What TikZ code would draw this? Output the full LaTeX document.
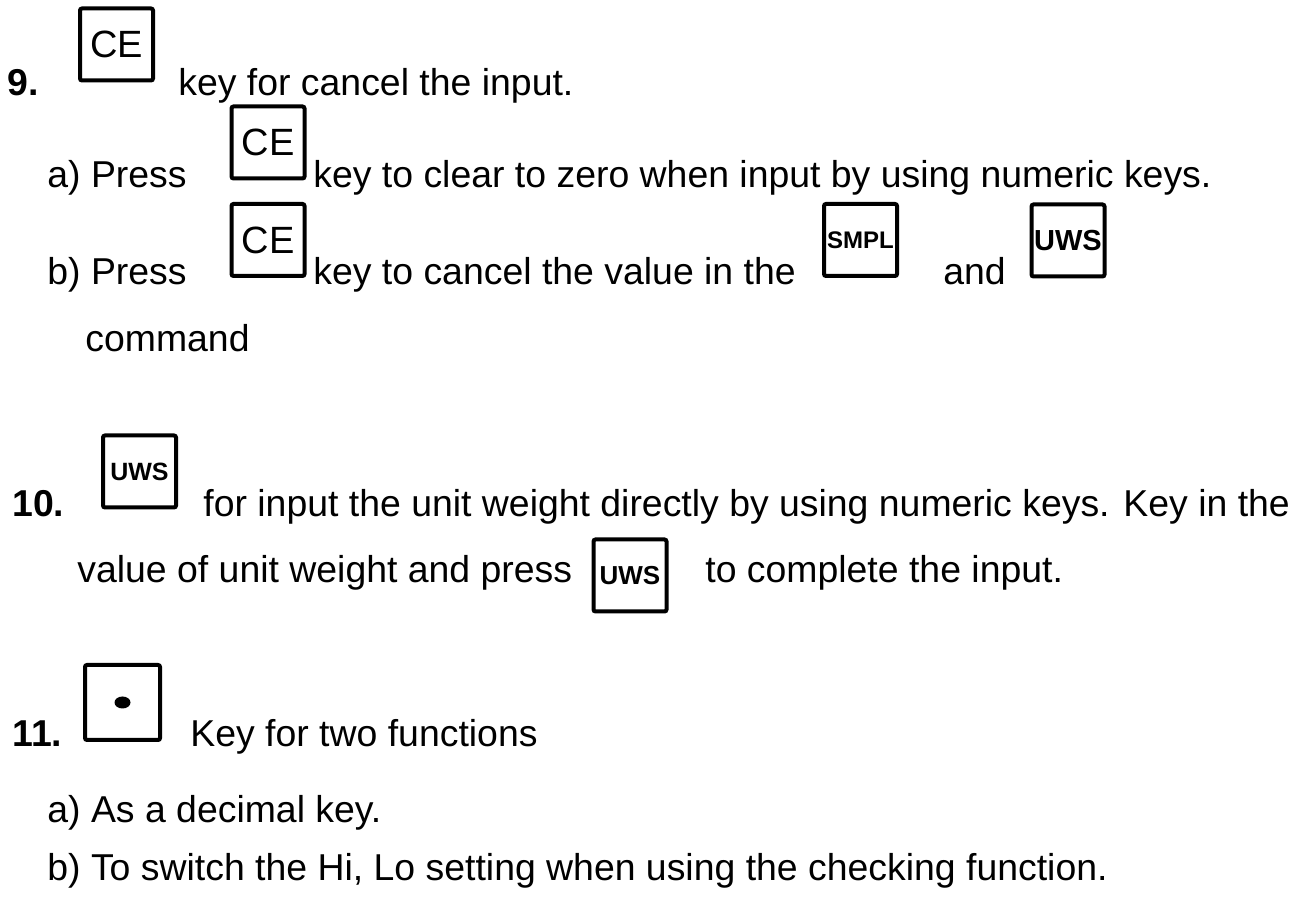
\documentclass[tikz,border=0pt]{standalone}
\usepackage{fontspec}
\setmainfont{Liberation Sans}

\begin{document}
\begin{tikzpicture}[x=0.5pt, y=-0.5pt,
    txt/.style = {anchor=base west, inner sep=0pt,
                  font=\fontsize{18.7}{22}\selectfont},
    num/.style = {txt, font=\fontsize{18.7}{22}\selectfont\bfseries},
    key/.style = {draw, line width=2pt, rounded corners=1pt, inner sep=0pt,
                  minimum width=36.5pt, minimum height=36pt,
                  font=\fontsize{19}{22}\selectfont},
    small/.style = {font=\fontsize{#1}{#1}\selectfont\bfseries}]
\useasboundingbox (0,0) rectangle (1302,908);

% item 9
\node[num] (n9) at (7,96) {9.};
\node[key] (ce9) at (116.5,44.5) {CE};
\node[txt] (t9) at (178,96) {key for cancel the input.};
\node[txt] (t9a) at (47,188) {a) Press};
\node[key] (cea) at (268,142.5) {CE};
\node[txt] (t9a2) at (313,188) {key to clear to zero when input by using numeric keys.};
\node[txt] (t9b) at (47,285) {b) Press};
\node[key] (ceb) at (268,240) {CE};
\node[txt] (t9b2) at (313,285) {key to cancel the value in the};
\node[key, small=12] (smpl) at (860.5,240) {SMPL};
\node[txt] (and) at (943,285) {and};
\node[key, small=14.5] (uwsb) at (1068,240.5) {UWS};
\node[txt] (cmd) at (85,352) {command};

% item 10
\node[num] (n10) at (12,517) {10.};
\node[key, small=12.5] (uws10) at (139.5,471.5) {UWS};
\node[txt] (t10) at (203,517) {for input the unit weight directly by using numeric keys. Key in the};
\node[txt] (t10b) at (77,583) {value of unit weight and press};
\node[key, small=13] (uwsp) at (630,575.5) {UWS};
\node[txt] (t10c) at (705,583) {to complete the input.};

% item 11
\node[num] (n11) at (12,747) {11.};
\node[key, minimum width=37.5pt, minimum height=37.5pt] (dotk) at (122.5,702.5) {};
\fill (dotk.center) ellipse [x radius=8, y radius=6];
\node[txt] (t11) at (190,747) {Key for two functions};
\node[txt] (t11a) at (47,822) {a) As a decimal key.};
\node[txt] (t11b) at (47,880) {b) To switch the Hi, Lo setting when using the checking function.};
\end{tikzpicture}
\end{document}
